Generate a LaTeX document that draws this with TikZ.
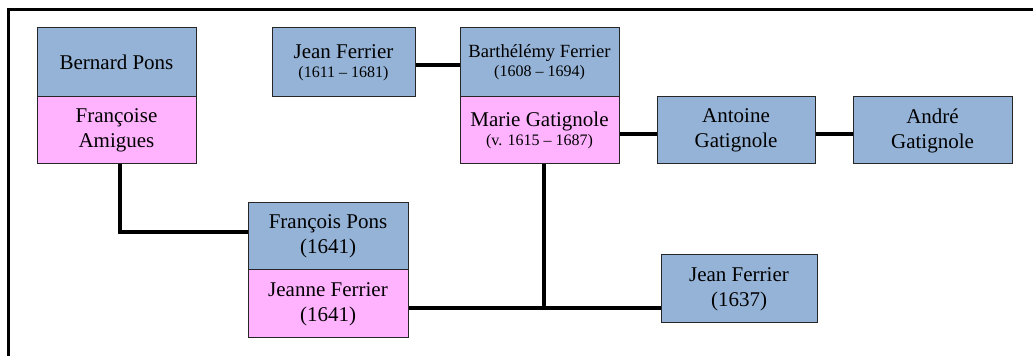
\documentclass[tikz,border=0pt]{standalone}
\usepackage{fontspec}
\setmainfont{Liberation Serif}
\definecolor{manblue}{RGB}{149,179,215}
\definecolor{womanpink}{RGB}{255,179,255}
\newcommand{\datesize}{\fontsize{8}{9}\selectfont}
\begin{document}
\begin{tikzpicture}[x=0.5pt,y=-0.5pt]
\tikzstyle{person}=[rectangle,draw=black!85,line width=0.5pt,inner sep=0pt,align=center,
  font=\fontsize{10.5}{12.5}\selectfont,minimum width=79.5pt,minimum height=34pt]
\tikzstyle{man}=[person,fill=manblue]
\tikzstyle{woman}=[person,fill=womanpink]
\tikzstyle{link}=[line width=1.6pt]

\useasboundingbox (0,0) rectangle (1033,356);
\draw[line width=1.5pt] (8,360) -- (8,10) -- (1040,10);

\node[man] (bernard) at (116.5,62.5) [minimum height=34.5pt] {Bernard Pons};
\node[woman] (francoise) at (116.5,130.5) [minimum height=33.5pt] {Françoise\\Amigues};

\node[man] (jean1) at (343.5,62.5) [minimum width=71.5pt,minimum height=34.5pt]
  {Jean Ferrier\\[-3pt]{\datesize (1611 -- 1681)}};

\node[man] (barthelemy) at (539.5,62.5) [minimum height=34.5pt]
  {{\fontsize{9.3}{11}\selectfont Barthélémy Ferrier}\\[-3pt]{\datesize (1608 -- 1694)}};
\node[woman] (marie) at (539.5,130.5) [minimum height=33.5pt]
  {Marie Gatignole\\[-3pt]{\datesize (v. 1615 -- 1687)}};

\node[man] (antoine) at (736,130.5) [minimum width=79pt,minimum height=33.5pt] {Antoine\\Gatignole};
\node[man] (andre) at (932.5,130.5) [minimum height=33.5pt] {André\\Gatignole};

\node[man] (francois) at (328,236.5) [minimum width=80pt,minimum height=33.5pt] {François Pons\\(1641)};
\node[woman] (jeanne) at (328,304) [minimum width=80pt,minimum height=34pt] {Jeanne Ferrier\\(1641)};

\node[man] (jean2) at (739,289) [minimum width=78pt,minimum height=34pt] {Jean Ferrier\\(1637)};

\draw[link] ([yshift=-1.25pt]jean1.east) -- ([yshift=-1.25pt]barthelemy.west);
\draw[link] ([yshift=-1.75pt]marie.east) -- ([yshift=-1.75pt]antoine.west);
\draw[link] ([yshift=-1.75pt]antoine.east) -- ([yshift=-1.75pt]andre.west);
\draw[link] ([xshift=1.75pt]francoise.south) |- ([yshift=2.25pt]francois.west);
\draw[link] ([yshift=-2pt]jeanne.east) -- ([yshift=-2pt]jeanne.east -| jean2.west);
\draw[link] ([xshift=2.25pt]marie.south) -- ([xshift=2.25pt,yshift=-2pt]marie.south |- jeanne.east);

\end{tikzpicture}
\end{document}
